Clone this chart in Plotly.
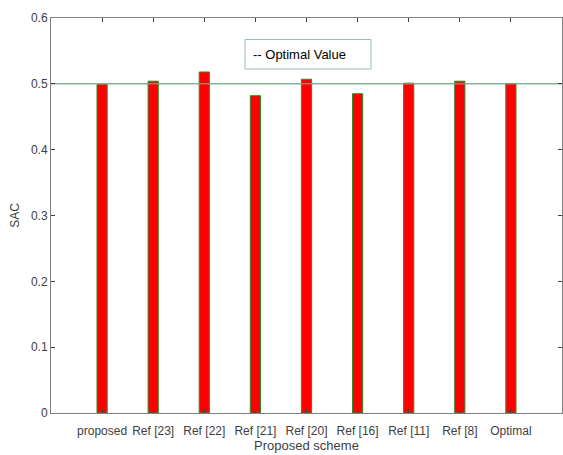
import plotly.graph_objects as go

categories = ["proposed", "Ref [23]", "Ref [22]", "Ref [21]", "Ref [20]", "Ref [16]", "Ref [11]", "Ref [8]", "Optimal"]
sac_values = [0.499, 0.504, 0.518, 0.482, 0.507, 0.485, 0.501, 0.504, 0.500]
optimal_value = 0.5
y_ticks = [0, 0.1, 0.2, 0.3, 0.4, 0.5, 0.6]
y_tick_text = ["0", "0.1", "0.2", "0.3", "0.4", "0.5", "0.6"]

xpos = list(range(1, len(categories) + 1))

W, H = 563, 455
ML, MR, MT, MB = 51, 1, 18, 42
PW, PH = W - ML - MR, H - MT - MB


def px_x(x):
    return (x - ML) / PW


def px_y(y):
    return 1 - (y - MT) / PH


fig = go.Figure()
fig.add_trace(go.Bar(
    x=xpos, y=sac_values, width=0.2,
    marker=dict(color="#ff0000", line=dict(color="#2e8b2e", width=1)),
    showlegend=False,
))
fig.add_trace(go.Scatter(
    x=[0, 10], y=[optimal_value, optimal_value], mode="lines",
    line=dict(color="rgba(110,165,130,0.85)", width=1.5),
    showlegend=False, hoverinfo="skip",
))

# legend box
fig.add_shape(
    type="rect", xref="paper", yref="paper",
    x0=px_x(245), x1=px_x(371), y0=px_y(69), y1=px_y(39.5),
    line=dict(color="#9dbfa9", width=1), fillcolor="white", layer="above",
)
fig.add_annotation(
    x=px_x(251), y=px_y(54), xref="paper", yref="paper",
    xanchor="left", yanchor="middle",
    text="-- Optimal Value", showarrow=False,
    font=dict(family="Liberation Sans, Arial", size=13, color="#000000"),
)

axis_common = dict(
    showline=True, linecolor="#808080", linewidth=1, mirror="ticks",
    ticks="inside", ticklen=4, tickcolor="#404040", showgrid=False, zeroline=False,
    tickfont=dict(family="Liberation Sans, Arial", size=12, color="#404040"),
)

fig.update_layout(
    width=W, height=H, autosize=False,
    margin=dict(l=ML, r=MR, t=MT, b=MB),
    paper_bgcolor="white", plot_bgcolor="white",
    xaxis=dict(
        range=[0, 10], tickvals=xpos, ticktext=categories,
        ticklabelstandoff=7,
        title=dict(text="Proposed scheme", standoff=3,
                   font=dict(family="Liberation Sans, Arial", size=13, color="#404040")),
        **axis_common,
    ),
    yaxis=dict(
        range=[0, 0.6], tickvals=y_ticks, ticktext=y_tick_text,
        title=dict(text="SAC", standoff=8,
                   font=dict(family="Liberation Sans, Arial", size=12, color="#404040")),
        **axis_common,
    ),
)

fig.write_html(
    "out.html",
    config={"displayModeBar": False, "responsive": False},
    post_script=(
        "document.documentElement.style.overflow='hidden';"
        "document.body.style.margin='0';document.body.style.overflow='hidden';"
    ),
)
